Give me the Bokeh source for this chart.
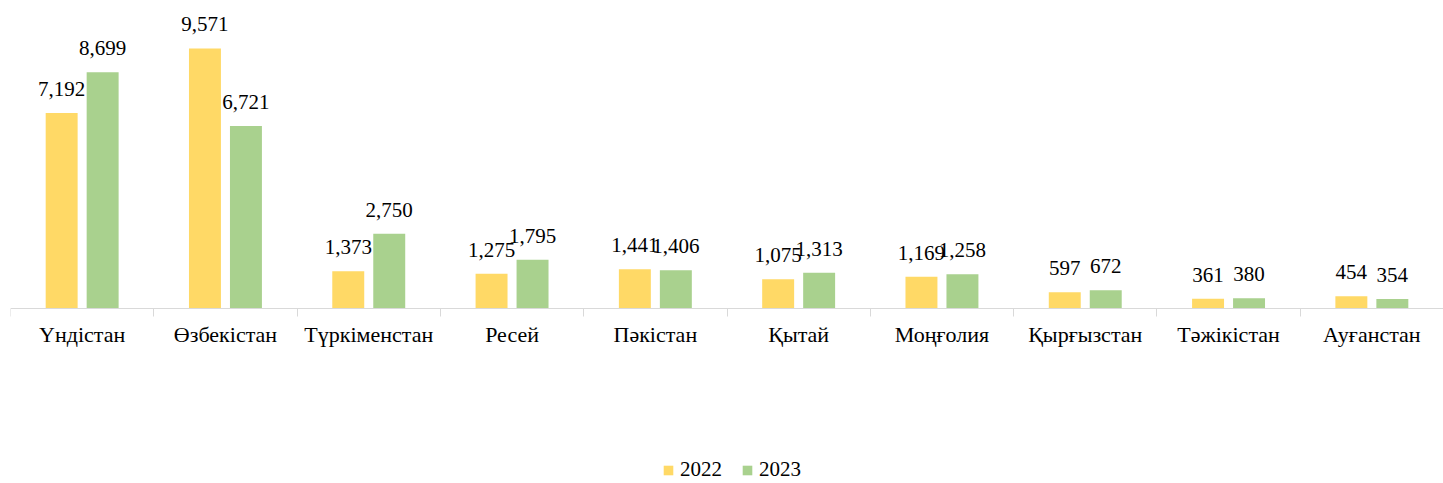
from bokeh.plotting import figure
from bokeh.models import ColumnDataSource, Range1d, FixedTicker, Legend, LegendItem, LabelSet
from bokeh.core.properties import value
from bokeh.transform import dodge
from bokeh.embed import file_html
from bokeh.resources import INLINE

categories = ["Үндістан", "Өзбекістан", "Түркіменстан", "Ресей", "Пәкістан",
              "Қытай", "Моңғолия", "Қырғызстан", "Тәжікістан", "Ауғанстан"]
v2022 = [7192, 9571, 1373, 1275, 1441, 1075, 1169, 597, 361, 454]
v2023 = [8699, 6721, 2750, 1795, 1406, 1313, 1258, 672, 380, 354]
series_names = ["2022", "2023"]
colors = ["#FFD966", "#A9D18E"]

FONT = "Liberation Serif"
FS = "21px"
n = len(categories)
xc = [i + 0.5 for i in range(n)]

src = ColumnDataSource(dict(
    x=xc, a=v2022, b=v2023,
    la=[f"{v:,}" for v in v2022], lb=[f"{v:,}" for v in v2023],
))

p = figure(width=1443, height=483, output_backend="svg", toolbar_location=None,
           x_range=Range1d(0, n), y_range=Range1d(-6441, 11336),
           min_border_left=10, min_border_right=0, min_border_top=0, min_border_bottom=0)
p.outline_line_color = None
p.xgrid.visible = False
p.ygrid.visible = False
p.yaxis.visible = False

off = 0.143
w = 0.223
r1 = p.vbar(x=dodge("x", -off, range=p.x_range), top="a", width=w, source=src,
            fill_color=colors[0], line_color=None)
r2 = p.vbar(x=dodge("x", off, range=p.x_range), top="b", width=w, source=src,
            fill_color=colors[1], line_color=None)

for col, lab, d in (("a", "la", -off), ("b", "lb", off)):
    ls = LabelSet(x=dodge("x", d, range=p.x_range), y=col, text=lab, source=src,
                  text_align="center", text_baseline="alphabetic", y_offset=17,
                  text_font=value(FONT), text_font_size=value(FS), text_color="#000000")
    p.add_layout(ls)

ax = p.xaxis[0]
ax.fixed_location = 0
ax.ticker = FixedTicker(ticks=xc, minor_ticks=list(range(n + 1)))
ax.major_label_overrides = {x: c for x, c in zip(xc, categories)}
ax.major_tick_out = 0
ax.major_tick_in = 0
ax.minor_tick_out = 8
ax.minor_tick_in = 0
ax.minor_tick_line_color = "#D9D9D9"
ax.axis_line_color = "#D9D9D9"
ax.major_label_text_font = FONT
ax.major_label_text_font_size = "22px"
ax.major_label_text_color = "#000000"
ax.major_label_standoff = 6

legend = Legend(items=[LegendItem(label=series_names[0], renderers=[r1]),
                       LegendItem(label=series_names[1], renderers=[r2])],
                location=(652, 1), orientation="horizontal",
                glyph_width=12, glyph_height=12, label_standoff=6, spacing=19,
                padding=0, margin=0, border_line_color=None, background_fill_alpha=0,
                label_text_font=FONT, label_text_font_size=FS, label_text_color="#000000")
p.add_layout(legend, "center")

open("out.html", "w").write(file_html(p, INLINE))
